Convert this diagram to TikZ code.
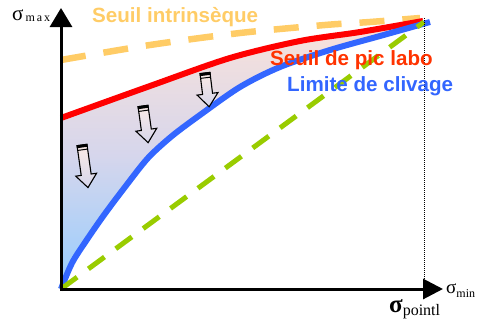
\documentclass[tikz,border=0pt]{standalone}
\usepackage{fontspec}
\setmainfont{Liberation Serif}
\setsansfont{Liberation Sans}
\usetikzlibrary{arrows.meta}
\definecolor{orangeC}{RGB}{255,204,102}
\definecolor{redC}{RGB}{255,0,0}
\definecolor{redT}{RGB}{255,51,0}
\definecolor{blueC}{RGB}{51,102,255}
\definecolor{greenC}{RGB}{153,204,0}
\definecolor{pinkF}{RGB}{250,226,218}
\definecolor{lavF}{RGB}{214,214,236}
\definecolor{blueF}{RGB}{150,205,255}
\tikzset{
  curve/.style={line width=6pt, line cap=butt, line join=round},
  lbl/.style={inner sep=0pt, anchor=base west, font=\sffamily\bfseries\fontsize{20.6}{22}\selectfont},
  sig/.style={inner sep=0pt, anchor=base west},
  axisline/.style={line width=3pt, line join=miter},
  blockarrow/.style={draw=black, line width=1.1pt, line join=miter, top color=pinkF!70!white, bottom color=lavF},
}
\newcommand{\blockarr}[4]{%
  \begin{scope}[shift={(#1,#2)}, rotate=#4]
    \filldraw[blockarrow] (-5,0) -- (-5,#3-13) -- (-10.5,#3-13) -- (0,#3) -- (10.5,#3-13) -- (5,#3-13) -- (5,0) -- cycle;
    \fill[black] (-5.5,-0.5) rectangle (5.5,2.5);
    \draw[black, line width=1pt] (-5,4.8) -- (5,4.8);
  \end{scope}}
\def\bluepts{(61,289) (72,263) (86,241) (104,215) (125,187) (148,158) (172,136) (200,115) (240,87) (280,67) (330,50) (380,36) (430,22)}
\def\redpts{(61,118) (150,86) (230,58) (300,41) (360,32) (423,21)}
\def\redptsrev{(423,21) (360,32) (300,41) (230,58) (150,86) (61,118)}
\begin{document}
\begin{tikzpicture}[x=1pt,y=-1pt]
\useasboundingbox (0,0) rectangle (488,324);
% coordinates
\coordinate (O) at (61,289);
\coordinate (Ytip) at (61,8);
\coordinate (Xtip) at (443,289);
\coordinate (D1) at (424,18);
\coordinate (D2) at (424,289);
\coordinate (G1) at (61,289);
\coordinate (G2) at (424,22);
% gradient fill between curves
\path[top color=pinkF, bottom color=blueF, middle color=lavF]
  plot[smooth] coordinates {\bluepts}
  -- plot[smooth] coordinates {\redptsrev}
  -- cycle;
% orange dashed (seuil intrinseque)
\draw[orangeC, line width=6.5pt, dash pattern=on 25pt off 18pt]
  plot[smooth] coordinates {(61,60) (150,45) (240,33) (325,25) (370,22) (420,18)};
% red curve
\draw[curve, redC] plot[smooth] coordinates {\redpts};
% blue curve
\draw[curve, blueC] plot[smooth] coordinates {\bluepts};
% green dashed
\draw[greenC, line width=5pt, dash pattern=on 20pt off 14pt] (G1) -- (G2);
% dotted line
\draw[black, line width=1pt, dash pattern=on 1pt off 1pt] (D1) -- (D2);
% axes
\draw[axisline, -{Triangle[length=19pt,width=22pt]}] (O) -- (Ytip);
\draw[axisline, -{Triangle[length=20pt,width=20pt]}] ([xshift=-1.5pt]O) -- (Xtip);
% block arrows
\blockarr{82}{145}{43}{8}
\blockarr{143}{106}{37}{8}
\blockarr{205}{73}{34}{7}
% labels
\node[lbl, text=orangeC] (t1) at (92,23) {Seuil intrinsèque};
\node[lbl, text=redT] (t2) at (270,65) {Seuil de pic labo};
\node[lbl, text=blueC] (t3) at (287,91) {Limite de clivage};
\node[sig, font=\fontsize{21}{22}\selectfont] (smax) at (12,20) {σ\raisebox{-1.5pt}{\fontsize{12}{12}\selectfont\,m\,a\,x}};
\node[sig, font=\fontsize{19}{20}\selectfont] (smin) at (446,293) {σ\raisebox{-4pt}{\fontsize{12}{12}\selectfont min}};
\node[sig, font=\bfseries\fontsize{25}{26}\selectfont] (spt) at (389,312) {σ\raisebox{-3pt}{\mdseries\fontsize{16}{16}\selectfont pointl}};
\end{tikzpicture}
\end{document}
